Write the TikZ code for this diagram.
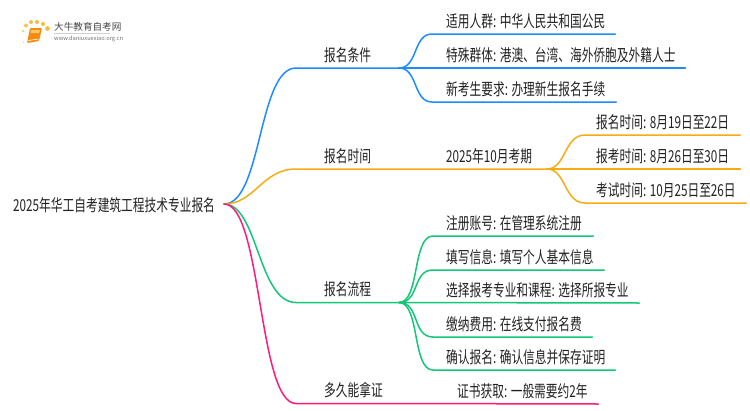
\documentclass[tikz,border=0pt]{standalone}
\usepackage{fontspec}
\setmainfont[FakeStretch=0.71]{Noto Sans CJK SC}
\newfontfamily\logofont{Noto Sans CJK SC}
\definecolor{cblue}{HTML}{1E8CFF}
\definecolor{corange}{HTML}{F8AC14}
\definecolor{cgreen}{HTML}{12C877}
\definecolor{cpink}{HTML}{FF1A7C}
\definecolor{ctext}{HTML}{222222}
\newcommand{\cs}{:\hspace{3.5pt}}
\tikzset{
  lab/.style={anchor=south west,inner ysep=0pt,inner xsep=0pt,minimum height=26pt,font=\fontsize{16.5}{19}\selectfont,text=ctext,align=left},
  conn/.style={line width=1.5pt,line cap=round,line join=round},
}
\begin{document}
\begin{tikzpicture}[x=1pt,y=-1pt]
\useasboundingbox (0,0) rectangle (750,410);
\fill[white] (0,0) rectangle (750,410);
% logo
\foreach \a/\b/\r/\o in {23/31/1.6/50,26/25.5/2/70,31/22/2/80,37/22/2/85,43/24/2/85,47.5/28.5/2.4/80,23.5/42/1.2/35}{\fill[corange,opacity=.\o] (\a,\b) circle (\r);}
\fill[corange!80!red,rounded corners=1pt] (30,28) -- (42,28) -- (39,41) -- (27,43) -- cycle;
\fill[corange!65] (31,30) -- (40,30) -- (39,33) -- (30.5,33) -- cycle;
\draw[white,line width=.6pt] (28.5,40.5) -- (38.5,39);
\node[inner sep=0pt,anchor=west,font=\logofont\fontsize{9.6}{11}\selectfont,text=black!72] (logoa) at (54,27) {大牛教育自考网};
\node[inner sep=0pt,anchor=west,font=\logofont\fontsize{5.7}{7}\selectfont,text=black!55] (logob) at (54,39) {www.daniuxuexiao.org.cn};
\fill[black!18] (54,33) rectangle (110,33.6);
% root
\node[inner sep=0pt,anchor=west,font=\fontsize{16.5}{19}\selectfont,text=ctext] (root) at (13,205) {2025年华工自考建筑工程技术专业报名};
\coordinate (r) at (224,204);
% level 1
\node[lab,text width=103pt] (a) at (296,68) {\hspace*{28pt}报名条件};
\node[lab,text width=251pt] (b) at (296,169) {\hspace*{28pt}报名时间};
\node[lab,text width=103pt] (c) at (296,302.5) {\hspace*{28pt}报名流程};
\node[lab,text width=103pt] (d) at (296,403.5) {\hspace*{28pt}多久能拿证};
\coordinate (aj) at (399,68);
\coordinate (bj) at (547,169);
\coordinate (cj) at (399,302.5);
% a children
\node[lab,text width=183pt] (a1) at (432,34) {\hspace*{14pt}适用人群\cs 中华人民共和国公民};
\node[lab,text width=253pt] (a2) at (432,68) {\hspace*{14pt}特殊群体\cs 港澳、台湾、海外侨胞及外籍人士};
\node[lab,text width=184pt] (a3) at (432,102) {\hspace*{14pt}新考生要求\cs 办理新生报名手续};
% b children
\node[lab,text width=159pt] (b0) at (432,169) {\hspace*{14pt}2025年10月考期};
\node[lab,text width=155pt] (b1) at (585,135) {\hspace*{11pt}报名时间\cs 8月19日至22日};
\node[lab,text width=155pt] (b2) at (585,169) {\hspace*{11pt}报考时间\cs 8月26日至30日};
\node[lab,text width=161pt] (b3) at (585,203) {\hspace*{11pt}考试时间\cs 10月25日至26日};
% c children
\node[lab,text width=160pt] (c1) at (433,236) {\hspace*{13pt}注册账号\cs 在管理系统注册};
\node[lab,text width=171pt] (c2) at (433,270) {\hspace*{13pt}填写信息\cs 填写个人基本信息};
\node[lab,text width=206pt] (c3) at (433,303) {\hspace*{13pt}选择报考专业和课程\cs 选择所报专业};
\node[lab,text width=159pt] (c4) at (433,337) {\hspace*{13pt}缴纳费用\cs 在线支付报名费};
\node[lab,text width=182pt] (c5) at (433,370) {\hspace*{13pt}确认报名\cs 确认信息并保存证明};
% d child
\node[lab,text width=202pt] (d1) at (396,404) {\hspace*{61pt}证书获取\cs 一般需要约2年};
% connectors
\draw[conn,cblue] (r) .. controls (262,204) and (258,68) .. (a.south west) -- (a.south east);
\draw[conn,cblue] (aj) .. controls (418,68) and (413,34) .. (a1.south west) -- (a1.south east);
\draw[conn,cblue] (aj) -- (a2.south east);
\draw[conn,cblue] (aj) .. controls (418,68) and (413,102) .. (a3.south west) -- (a3.south east);
\draw[conn,corange] (r) .. controls (255,204) and (262,169) .. (b.south west) -- (b.south east);
\draw[conn,corange] (bj) .. controls (566,169) and (564,135) .. (b1.south west) -- (b1.south east);
\draw[conn,corange] (bj) -- (b2.south east);
\draw[conn,corange] (bj) .. controls (566,169) and (564,203) .. (b3.south west) -- (b3.south east);
\draw[conn,cgreen] (r) .. controls (258,204) and (258,302.5) .. (c.south west) -- (c.south east);
\draw[conn,cgreen] (cj) .. controls (420,302.5) and (412,236) .. (c1.south west) -- (c1.south east);
\draw[conn,cgreen] (cj) .. controls (420,302.5) and (412,270) .. (c2.south west) -- (c2.south east);
\draw[conn,cgreen] (cj) -- (c3.south east);
\draw[conn,cgreen] (cj) .. controls (420,302.5) and (412,337) .. (c4.south west) -- (c4.south east);
\draw[conn,cgreen] (cj) .. controls (420,302.5) and (412,370) .. (c5.south west) -- (c5.south east);
\draw[conn,cpink] (r) .. controls (262,204) and (258,403.5) .. (d.south west) -- (d.south east) -- (d1.south east);
\end{tikzpicture}
\end{document}
